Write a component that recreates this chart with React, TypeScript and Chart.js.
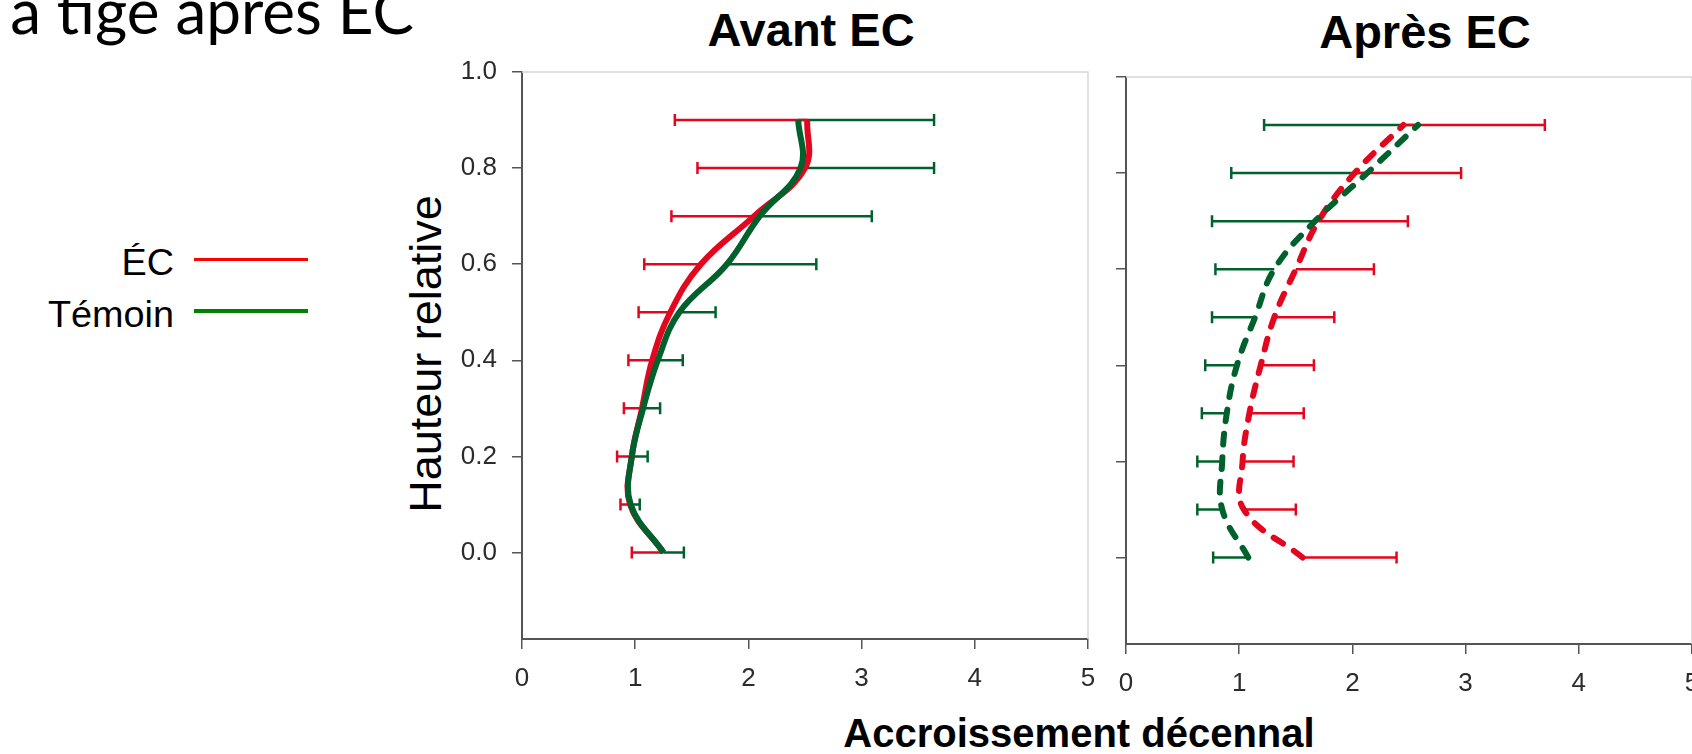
import React, { useEffect, useRef } from "react";
import { Chart, registerables } from "chart.js";

Chart.register(...registerables);

// Relative heights (y) shared by all series
const heights = [0.0, 0.1, 0.2, 0.3, 0.4, 0.5, 0.6, 0.7, 0.8, 0.9];

// Avant EC panel
const avantEC = [1.25, 0.955, 0.97, 1.06, 1.15, 1.31, 1.58, 2.05, 2.5, 2.52];
const avantECLow = [0.97, 0.87, 0.84, 0.9, 0.94, 1.03, 1.08, 1.32, 1.55, 1.35];
const avantTemoin = [1.25, 0.96, 0.97, 1.07, 1.2, 1.39, 1.81, 2.1, 2.46, 2.44];
const avantTemoinHigh = [1.43, 1.04, 1.11, 1.22, 1.42, 1.71, 2.6, 3.09, 3.64, 3.64];

// Après EC panel
const apresEC = [1.56, 1.04, 1.03, 1.09, 1.19, 1.31, 1.5, 1.7, 2.02, 2.45];
const apresECHigh = [2.39, 1.5, 1.48, 1.57, 1.66, 1.84, 2.19, 2.49, 2.96, 3.7];
const apresTemoin = [1.08, 0.85, 0.85, 0.89, 0.98, 1.14, 1.31, 1.67, 2.13, 2.58];
const apresTemoinLow = [0.77, 0.63, 0.63, 0.67, 0.7, 0.76, 0.79, 0.76, 0.93, 1.22];

// Axes
const xMin = 0;
const xMax = 5;
const yMin = -0.18;
const yMax = 1.0;

const RED = "#E3061F";
const GREEN = "#00612C";

const errorBarPlugin = {
  id: "errorBars",
  beforeDatasetsDraw(chart: any) {
    const { ctx } = chart;
    const xs = chart.scales.x;
    const ys = chart.scales.y;
    ctx.save();
    chart.data.datasets.forEach((ds: any) => {
      if (!ds.errEnds) return;
      ctx.strokeStyle = ds.borderColor;
      ctx.lineWidth = 2.5;
      ctx.setLineDash([]);
      ctx.lineCap = "butt";
      ds.data.forEach((p: any, i: number) => {
        const y = ys.getPixelForValue(p.y);
        const x0 = xs.getPixelForValue(p.x);
        const x1 = xs.getPixelForValue(ds.errEnds[i]);
        ctx.beginPath();
        ctx.moveTo(x0, y);
        ctx.lineTo(x1, y);
        ctx.moveTo(x1, y - 6);
        ctx.lineTo(x1, y + 6);
        ctx.stroke();
      });
    });
    ctx.restore();
  },
};

const framePlugin = {
  id: "frame",
  beforeDatasetsDraw(chart: any) {
    const { ctx, chartArea: a } = chart;
    ctx.save();
    ctx.strokeStyle = "#d6d6d6";
    ctx.lineWidth = 1.5;
    ctx.beginPath();
    ctx.moveTo(a.left, a.top);
    ctx.lineTo(a.right, a.top);
    ctx.lineTo(a.right, a.bottom);
    ctx.stroke();
    ctx.restore();
  },
};

const toPoints = (xs: number[]) => heights.map((h, i) => ({ x: xs[i], y: h }));

const PAD = 40;
const YAXIS_W = 80;
const XAXIS_H = 58;
const CW = YAXIS_W + 566 + PAD;
const CH = PAD + 567 + XAXIS_H;
const tickFont = { family: "'Liberation Sans', Arial, sans-serif", size: 26 };

function Panel(props: { left: number; top: number; datasets: any[]; yLabels: boolean }) {
  const ref = useRef<HTMLCanvasElement>(null);
  useEffect(() => {
    const chart = new Chart(ref.current as HTMLCanvasElement, {
      type: "scatter",
      data: { datasets: props.datasets },
      plugins: [framePlugin, errorBarPlugin],
      options: {
        responsive: false,
        animation: false,
        devicePixelRatio: 1,
        layout: { padding: { top: PAD, right: PAD, left: 0, bottom: 0 } },
        plugins: { legend: { display: false }, tooltip: { enabled: false } },
        elements: { point: { radius: 0, hoverRadius: 0 } },
        scales: {
          x: {
            type: "linear",
            min: xMin,
            max: xMax,
            afterFit: (s: any) => {
              s.height = XAXIS_H;
            },
            ticks: {
              stepSize: 1,
              padding: 14,
              color: "#2b2b2b",
              font: tickFont,
            },
            grid: { drawOnChartArea: false, drawTicks: true, tickLength: 10, color: "#555", lineWidth: 1.5 },
            border: { display: true, color: "#555", width: 2 },
          },
          y: {
            type: "linear",
            min: yMin,
            max: yMax,
            afterFit: (s: any) => {
              s.width = YAXIS_W;
            },
            ticks: {
              stepSize: 0.2,
              includeBounds: false,
              padding: 15,
              color: "#2b2b2b",
              font: tickFont,
              callback: (v: any) => (props.yLabels ? Number(v).toFixed(1) : ""),
            },
            grid: { drawOnChartArea: false, drawTicks: true, tickLength: 10, color: "#555", lineWidth: 1.5 },
            border: { display: true, color: "#555", width: 2 },
          },
        },
      } as any,
    });
    return () => chart.destroy();
  }, []);
  return (
    <canvas
      ref={ref}
      width={CW}
      height={CH}
      style={{ position: "absolute", left: props.left, top: props.top, width: CW, height: CH, display: "block" }}
    />
  );
}

const avantDatasets = [
  {
    label: "Témoin",
    data: toPoints(avantTemoin),
    errEnds: avantTemoinHigh,
    showLine: true,
    borderColor: GREEN,
    borderWidth: 6,
    tension: 0.4,
    pointRadius: 0,
  },
  {
    label: "ÉC",
    data: toPoints(avantEC),
    errEnds: avantECLow,
    showLine: true,
    borderColor: RED,
    borderWidth: 6,
    tension: 0.4,
    pointRadius: 0,
  },
];

const apresDatasets = [
  {
    label: "Témoin",
    data: toPoints(apresTemoin),
    errEnds: apresTemoinLow,
    showLine: true,
    borderColor: GREEN,
    borderWidth: 6,
    borderDash: [11, 13],
    borderCapStyle: "round",
    tension: 0.4,
    pointRadius: 0,
  },
  {
    label: "ÉC",
    data: toPoints(apresEC),
    errEnds: apresECHigh,
    showLine: true,
    borderColor: RED,
    borderWidth: 6,
    borderDash: [11, 13],
    borderCapStyle: "round",
    tension: 0.4,
    pointRadius: 0,
  },
];

const sans = "'Liberation Sans', Arial, Helvetica, sans-serif";

const legendText = {
  position: "absolute" as const,
  right: 1692 - 174,
  fontSize: 36,
  lineHeight: 1,
  whiteSpace: "nowrap" as const,
  transform: "scaleX(1.05)",
  transformOrigin: "right center",
};

export default function App() {
  return (
    <div
      style={{
        position: "absolute",
        left: 0,
        top: 0,
        width: 1692,
        height: 754,
        overflow: "hidden",
        background: "#fff",
        fontFamily: sans,
        color: "#000",
      }}
    >
      {/* cropped slide heading */}
      <div
        style={{
          position: "absolute",
          right: 1692 - 414,
          top: -21,
          fontFamily: "Lato, 'Open Sans', sans-serif",
          fontSize: 62,
          lineHeight: 1,
          whiteSpace: "nowrap",
        }}
      >
        a tige après EC
      </div>

      {/* legend */}
      <div style={{ ...legendText, top: 245 }}>ÉC</div>
      <div style={{ position: "absolute", left: 194, top: 258, width: 114, height: 3, background: "#ff0000" }} />
      <div style={{ ...legendText, top: 297 }}>Témoin</div>
      <div style={{ position: "absolute", left: 194, top: 309, width: 114, height: 4, background: "#008000" }} />

      {/* y axis title */}
      <div
        style={{
          position: "absolute",
          left: 425,
          top: 354,
          transform: "translate(-50%, -50%) rotate(-90deg)",
          fontSize: 45,
          lineHeight: 1,
          whiteSpace: "nowrap",
        }}
      >
        Hauteur relative
      </div>

      {/* panel titles */}
      <div style={{ position: "absolute", left: 811, top: 6, transform: "translateX(-50%)", fontSize: 47, fontWeight: 700, lineHeight: 1, whiteSpace: "nowrap" }}>
        Avant EC
      </div>
      <div style={{ position: "absolute", left: 1425, top: 8, transform: "translateX(-50%)", fontSize: 47, fontWeight: 700, lineHeight: 1, whiteSpace: "nowrap" }}>
        Après EC
      </div>

      <Panel left={522 - YAXIS_W} top={72 - PAD} datasets={avantDatasets} yLabels={true} />
      <Panel left={1126 - YAXIS_W} top={77 - PAD} datasets={apresDatasets} yLabels={false} />

      {/* x axis title */}
      <div style={{ position: "absolute", left: 1079, top: 713, transform: "translateX(-50%)", fontSize: 40, fontWeight: 700, lineHeight: 1, whiteSpace: "nowrap" }}>
        Accroissement décennal
      </div>
    </div>
  );
}
